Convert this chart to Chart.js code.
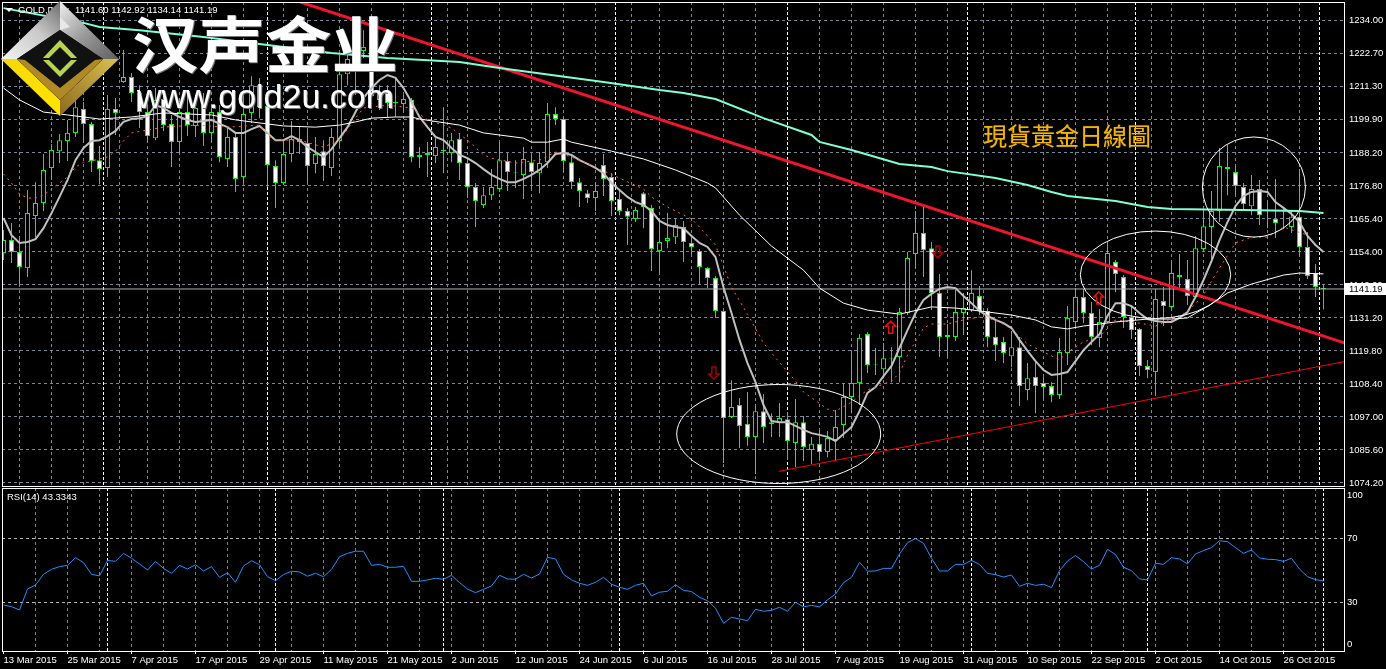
<!DOCTYPE html>
<html>
<head>
<meta charset="utf-8">
<title>GOLD Daily</title>
<script src="https://cdn.jsdelivr.net/npm/chart.js@4/dist/chart.umd.min.js"></script>
<style>
    html, body { margin: 0; padding: 0; background: #000; overflow: hidden; }
    #wrap { position: relative; width: 1386px; height: 669px; overflow: hidden; }
    canvas { position: absolute; left: 0; }
    #priceChart { top: 0; }
    #rsiChart { top: 487px; }
    .txt { position: absolute; white-space: pre; color: #fff; font-family: "Liberation Sans", sans-serif; }
    .small { font-size: 9.5px; line-height: 12px; }
    #head { left: 18px; top: 4px; }
    #headVals { left: 75px; top: 4px; }
    #rsiName { left: 7px; top: 491px; }
    #brand { left: 132px; top: 2px; font: 700 61px/80px "Noto Sans CJK SC", sans-serif; text-shadow: 1px 1px 0 #777; transform: scaleX(1.09); transform-origin: left top; }
    #site { left: 137px; top: 77px; font-size: 34px; line-height: 38px; text-shadow: 1px 1px 0 #777; }
    #title { left: 983px; top: 117px; color: #f2b705; font: 24px/36px "Noto Sans CJK TC", sans-serif; text-shadow: 0 0 1px #7a5a00; }
    #logo { position: absolute; left: 0; top: 0; }
    #mark { position: absolute; left: 5px; top: 8px; }
</style>
</head>
<body>
<div id="wrap">
    <canvas id="priceChart" width="1386" height="487"></canvas>
    <canvas id="rsiChart" width="1386" height="182"></canvas>
    <svg id="mark" width="9" height="5"><polygon points="0,0 8,0 4,4" fill="#fff"/></svg>
    <div class="txt small" id="head">GOLD,Daily</div>
    <div class="txt small" id="headVals">1141.60 1142.92 1134.14 1141.19</div>
    <div class="txt small" id="rsiName">RSI(14) 43.3343</div>
    <svg id="logo" width="120" height="118">
        <defs>
            <linearGradient id="g1" x1="0" y1="1" x2="1" y2="0"><stop offset="0" stop-color="#f4f4f4"/><stop offset="0.55" stop-color="#c9c9c9"/><stop offset="1" stop-color="#6c6c6c"/></linearGradient>
            <linearGradient id="g2" x1="0" y1="0" x2="1" y2="1"><stop offset="0" stop-color="#f0f0f0"/><stop offset="0.5" stop-color="#9a9a9a"/><stop offset="1" stop-color="#5e5e5e"/></linearGradient>
            <linearGradient id="g3" x1="0" y1="0" x2="1" y2="1"><stop offset="0" stop-color="#f7d80a"/><stop offset="1" stop-color="#ffe400"/></linearGradient>
            <linearGradient id="g4" x1="1" y1="0" x2="0" y2="1"><stop offset="0" stop-color="#d9c050"/><stop offset="1" stop-color="#8d6a1c"/></linearGradient>
        </defs>
        <polygon points="1,59 60,1 60,30 17,59" fill="url(#g1)"/>
        <polygon points="60,1 119,59 103,59 60,30" fill="url(#g2)"/>
        <polygon points="1,59 60,116 60,100 17,59" fill="url(#g3)"/>
        <polygon points="119,59 60,116 60,100 103,59" fill="url(#g4)"/>
        <polygon points="60,1 60,17 70,27 60,30" fill="#e8e8e8"/>
        <polygon points="17,59 60,30 103,59 60,100" fill="#111"/>
        <polygon points="25,60 60,88 95,60 103,59 60,100 17,59" fill="#b08a24"/>
        <polygon points="60,40 42,59 60,77 78,59" fill="#b9d252"/>
        <polygon points="60,47 48,59 60,71 72,59" fill="#111"/>
        <rect x="42" y="58" width="36" height="2" fill="#111"/>
    </svg>
    <div class="txt" id="brand">汉声金业</div>
    <div class="txt" id="site">www.gold2u.com</div>
    <div class="txt" id="title">現貨黃金日線圖</div>
</div>
<script>
// candles, one value per day, oldest first
const opens = [1153.6,1158.1,1154.0,1148.4,1166.4,1170.9,1183.0,1188.8,1192.3,1195.1,1203.4,1198.2,1185.7,1183.0,1203.4,1212.7,1214.4,1208.9,1202.3,1193.3,1206.8,1198.2,1192.0,1202.3,1197.5,1204.4,1195.1,1202.3,1186.1,1193.7,1179.9,1202.0,1204.0,1204.4,1183.7,1177.8,1187.8,1193.0,1191.6,1184.4,1188.8,1183.0,1192.3,1215.4,1220.3,1223.4,1220.3,1206.5,1208.9,1205.8,1205.1,1206.5,1187.5,1187.5,1187.1,1188.8,1188.2,1193.0,1184.7,1176.4,1170.2,1173.6,1175.7,1185.4,1181.4,1180.6,1185.0,1181.2,1185.0,1201.6,1199.9,1185.0,1178.1,1174.3,1172.6,1184.0,1179.9,1172.3,1168.1,1165.4,1174.3,1169.2,1154.3,1157.8,1159.1,1162.6,1157.1,1154.3,1148.4,1145.0,1133.6,1097.0,1101.1,1094.6,1090.1,1099.0,1094.5,1094.9,1096.2,1088.0,1095.2,1085.6,1087.7,1084.9,1089.0,1094.2,1103.9,1108.7,1125.6,1115.1,1113.5,1117.2,1117.7,1132.9,1153.3,1160.5,1155.3,1139.8,1125.3,1124.6,1132.9,1133.9,1138.8,1133.6,1124.6,1122.9,1118.0,1121.1,1106.3,1110.8,1108.7,1107.7,1104.6,1119.1,1129.8,1138.4,1132.9,1124.3,1129.8,1150.5,1145.3,1131.5,1127.4,1114.6,1112.5,1137.0,1135.0,1146.0,1144.6,1138.4,1155.0,1162.6,1168.1,1183.3,1181.6,1176.4,1169.8,1175.7,1168.6,1165.4,1162.7,1162.6,1166.1,1155.7,1146.7,1141.60];
const highs = [1161.6,1164.0,1159.5,1175.4,1178.1,1187.8,1191.3,1194.7,1199.6,1219.2,1205.8,1198.9,1190.6,1208.2,1207.2,1223.7,1215.8,1211.6,1204.7,1210.6,1209.9,1201.3,1207.2,1208.9,1208.2,1208.9,1204.7,1204.7,1197.1,1195.4,1208.9,1214.7,1214.1,1208.2,1185.7,1192.0,1199.2,1197.5,1196.1,1193.7,1192.6,1196.8,1222.0,1223.0,1223.7,1230.6,1223.7,1211.6,1211.6,1214.4,1208.2,1207.2,1190.2,1192.0,1193.3,1204.0,1195.1,1195.1,1186.4,1177.8,1176.4,1182.6,1192.0,1188.2,1185.7,1190.2,1187.5,1188.5,1205.4,1204.0,1200.6,1187.5,1179.5,1175.4,1178.1,1187.8,1181.2,1175.4,1169.2,1169.5,1174.7,1170.2,1164.3,1167.4,1165.7,1164.7,1158.8,1155.0,1148.8,1145.7,1133.9,1109.7,1103.5,1105.6,1101.5,1104.9,1098.3,1101.8,1098.7,1103.2,1097.3,1090.1,1092.5,1092.1,1099.4,1108.7,1119.1,1125.6,1126.3,1120.8,1122.5,1121.1,1134.6,1154.0,1168.1,1169.5,1157.4,1146.4,1129.1,1140.8,1139.8,1147.7,1142.2,1134.6,1130.5,1124.6,1126.7,1124.6,1115.6,1116.0,1110.8,1109.0,1124.3,1135.3,1141.5,1141.2,1136.7,1134.3,1156.4,1151.2,1146.0,1135.0,1127.7,1116.7,1141.2,1141.9,1150.8,1153.3,1151.2,1159.5,1168.8,1175.0,1189.9,1190.9,1184.0,1177.8,1180.6,1178.8,1171.6,1179.2,1169.5,1168.5,1182.6,1160.9,1149.8,1142.92];
const lows = [1151.2,1150.2,1142.5,1145.3,1159.1,1168.1,1178.8,1184.7,1185.4,1193.7,1192.0,1181.6,1177.4,1179.9,1194.4,1212.3,1205.8,1196.8,1192.0,1192.6,1195.8,1183.3,1188.2,1194.0,1193.7,1190.6,1192.0,1185.0,1183.3,1174.7,1177.8,1198.5,1200.2,1176.4,1169.2,1177.1,1185.0,1187.8,1178.1,1181.2,1178.5,1180.2,1190.2,1211.6,1208.2,1221.0,1204.7,1203.0,1200.6,1200.6,1202.3,1185.0,1183.0,1179.9,1184.7,1181.2,1185.0,1178.8,1172.6,1162.6,1169.2,1171.9,1174.7,1175.0,1176.1,1172.3,1175.7,1174.3,1183.0,1197.8,1181.6,1175.7,1169.5,1170.9,1168.1,1173.3,1166.4,1166.7,1156.4,1164.3,1162.2,1147.4,1146.7,1155.3,1156.7,1150.5,1152.2,1142.6,1141.5,1131.2,1081.1,1096.6,1086.3,1087.0,1077.3,1088.0,1090.1,1090.1,1082.1,1079.7,1081.8,1080.7,1082.5,1083.1,1082.1,1089.7,1098.3,1101.1,1112.2,1111.5,1110.4,1109.0,1109.0,1132.2,1148.4,1145.3,1133.9,1117.7,1117.7,1123.2,1125.3,1133.2,1132.2,1121.1,1116.3,1115.6,1114.2,1100.8,1102.8,1098.3,1103.2,1102.1,1103.2,1114.9,1127.4,1129.4,1121.8,1121.1,1129.4,1140.1,1127.7,1123.9,1111.1,1110.4,1104.2,1128.4,1134.6,1140.8,1135.7,1138.1,1154.3,1150.5,1164.3,1173.6,1173.6,1168.5,1166.7,1163.3,1162.2,1158.8,1161.9,1160.5,1152.2,1144.6,1138.4,1134.14];
const closes = [1158.1,1154.0,1148.8,1167.4,1170.9,1182.3,1189.2,1192.6,1195.1,1204.0,1198.2,1185.4,1182.6,1203.4,1202.0,1214.4,1208.9,1202.3,1194.0,1206.5,1197.8,1192.0,1202.3,1197.8,1203.7,1195.1,1202.3,1186.8,1193.7,1179.2,1201.6,1211.6,1211.6,1184.0,1177.8,1187.8,1193.0,1192.0,1183.7,1187.8,1183.7,1193.7,1215.4,1220.6,1216.8,1224.8,1207.8,1209.2,1205.4,1205.4,1206.8,1186.8,1186.8,1188.2,1190.2,1189.2,1192.6,1184.7,1176.4,1171.6,1173.6,1176.4,1185.7,1181.6,1181.2,1186.1,1181.6,1184.7,1201.6,1199.9,1185.4,1178.1,1175.0,1172.6,1175.0,1179.2,1171.6,1168.1,1166.1,1168.5,1169.5,1155.0,1157.4,1158.8,1163.3,1157.4,1155.7,1148.8,1145.0,1133.6,1096.6,1100.4,1093.9,1090.1,1099.0,1093.5,1095.2,1096.6,1088.7,1095.2,1086.6,1087.7,1084.9,1089.7,1093.5,1103.9,1108.7,1124.3,1114.9,1114.9,1117.3,1117.4,1133.2,1151.9,1160.5,1154.6,1139.8,1124.6,1124.6,1133.2,1134.6,1139.8,1133.6,1124.6,1121.8,1119.1,1121.1,1107.7,1110.4,1107.7,1107.3,1104.6,1119.4,1131.2,1138.4,1132.9,1124.6,1129.8,1153.6,1146.4,1131.5,1127.0,1114.6,1113.2,1137.7,1135.3,1146.7,1145.3,1138.8,1155.3,1162.9,1168.1,1183.7,1182.6,1176.8,1170.5,1175.7,1166.7,1168.4,1164.0,1162.5,1166.1,1155.7,1145.7,1141.9,1141.19];

// silver moving average
const fastMa = [1165.7,1159.8,1157.1,1157.4,1158.4,1162.2,1167.4,1173.0,1178.8,1185.7,1189.9,1192.3,1192.6,1194.0,1195.8,1198.9,1199.9,1200.2,1200.9,1204.7,1203.7,1202.0,1200.6,1199.6,1198.9,1199.2,1199.6,1198.2,1197.1,1195.1,1195.1,1196.4,1197.5,1195.1,1192.6,1192.6,1194.0,1192.6,1190.2,1188.5,1186.8,1189.5,1193.3,1197.1,1202.3,1207.2,1210.6,1213.4,1215.1,1214.1,1210.6,1205.8,1200.6,1197.1,1193.7,1192.6,1189.9,1187.5,1186.4,1184.7,1182.6,1180.6,1179.2,1178.1,1178.1,1179.2,1180.6,1182.3,1184.7,1187.8,1188.2,1187.5,1185.7,1184.4,1183.0,1181.2,1177.8,1175.4,1173.0,1171.2,1170.2,1168.1,1164.7,1163.3,1162.6,1162.2,1159.5,1157.1,1155.7,1152.2,1141.8,1132.9,1123.6,1115.6,1109.0,1101.1,1095.6,1095.2,1095.2,1093.9,1092.5,1091.4,1090.8,1090.1,1088.7,1091.1,1093.5,1099.0,1105.3,1107.3,1111.1,1114.6,1120.8,1127.0,1132.9,1137.4,1139.5,1141.2,1141.9,1141.5,1138.8,1136.3,1133.6,1131.9,1130.5,1129.4,1127.7,1123.6,1119.8,1116.3,1113.2,1111.5,1111.8,1112.5,1116.3,1120.1,1122.9,1125.6,1131.9,1136.3,1136.3,1135.3,1132.9,1130.8,1130.1,1129.8,1129.8,1131.2,1133.2,1138.4,1144.3,1150.8,1158.1,1164.3,1169.8,1173.3,1174.7,1175.0,1174.7,1171.2,1169.2,1167.1,1164.3,1159.5,1156.4,1154.0];

// dotted red moving average, read at these bars
const midBars = [0,1,2,3,4,5,6,7,8,9,10,11,13,14,15,16,18,20,24,28,32,33,34,37,40,42,44,45,48,51,53,56,58,60,61,64,67,69,71,74,77,80,81,83,86,87,89,91,93,95,96,99,100,103,104,106,108,111,112,113,115,116,118,120,122,124,126,128,132,133,135,137,139,142,144,146,148,150,151,152,154,156,158,160,163];
const midVals = [1180.9,1177.8,1174.0,1172.6,1172.6,1173.6,1175.7,1177.8,1179.9,1183.3,1185.0,1185.4,1186.8,1188.8,1192.3,1195.1,1196.1,1197.1,1197.8,1197.1,1197.8,1194.4,1192.6,1192.6,1190.2,1192.6,1200.2,1203.7,1204.7,1203.7,1199.6,1196.8,1192.6,1187.5,1186.4,1184.7,1185.7,1188.5,1186.8,1183.3,1179.5,1175.7,1173.0,1169.5,1165.4,1162.6,1156.4,1141.8,1132.5,1122.5,1119.1,1109.4,1105.6,1099.7,1099.0,1102.1,1106.3,1109.4,1112.2,1118.4,1127.7,1129.1,1129.1,1130.5,1131.5,1130.5,1127.4,1122.2,1116.7,1119.4,1122.9,1124.6,1130.5,1129.4,1128.4,1130.8,1133.2,1139.1,1143.9,1148.4,1157.1,1159.1,1159.1,1162.6,1159.8];

// thin white moving average
const slowBars = [0,2,5,8,12,16,20,26,29,35,39,42,44,46,49,51,52,57,60,65,66,68,70,71,76,80,84,88,89,92,96,100,102,105,108,112,116,119,122,126,129,131,133,135,139,143,146,148,151,153,156,160,162,165];
const slowVals = [1210.6,1206.5,1202.3,1201.3,1199.9,1200.6,1202.0,1201.3,1199.6,1197.5,1197.1,1197.8,1198.9,1200.2,1200.6,1200.6,1199.9,1197.8,1195.1,1193.3,1191.9,1191.9,1193.0,1191.9,1188.8,1186.1,1182.3,1177.8,1176.1,1166.7,1156.0,1147.7,1141.5,1136.3,1133.9,1132.5,1135.0,1134.6,1133.6,1132.2,1130.5,1128.1,1127.4,1128.4,1129.8,1130.8,1130.8,1131.2,1136.0,1139.8,1142.9,1146.0,1146.7,1146.4];

// aquamarine long moving average
const longBars = [0,10,12,17,25,33,41,48,57,62,75,82,85,89,95,101,102,106,112,116,118,124,128,131,133,139,143,146,155,162,165];
const longVals = [1238.2,1233.1,1231.7,1230.6,1228.2,1225.5,1222.7,1221.0,1219.6,1217.5,1212.7,1209.9,1208.9,1206.8,1200.2,1194.4,1192.0,1189.2,1184.4,1183.3,1181.9,1179.5,1177.1,1174.7,1173.3,1171.6,1169.5,1168.8,1168.5,1168.1,1167.4];

// trend lines drawn by hand on the chart
const downTrendBars = [37.1, 167.6];
const downTrendVals = [1240.3, 1122.6];
const upTrendBars = [96.9, 167.6];
const upTrendVals = [1078.2, 1116.1];

// circles and arrows drawn by hand on the chart
const ringBars = [96.9, 144, 156.3];
const ringVals = [1091.1, 1146.1, 1176.4];
const ringBarRadius = [12.75, 9.4, 6.44];
const ringValRadius = [17.1, 15.1, 17.3];
const arrowBars = [88.8, 110.9, 116.8, 136.9];
const arrowVals = [1112.2, 1128.0, 1154.0, 1138.1];
const arrowDirs = ['down', 'up', 'down', 'up'];

const rsiVals = [28.3,27.3,25.2,38.3,40.8,47.5,50.6,52.3,53.1,57.9,54.8,47.5,46.5,56.2,55.6,60.6,57.5,54.0,50.2,55.6,51.2,48.1,53.1,50.8,53.5,49.6,52.3,45.6,48.5,42.5,52.7,56.0,53.5,46.0,43.5,47.3,49.4,49.0,46.3,48.1,46.0,50.6,58.5,60.6,61.9,61.9,53.1,53.7,51.9,51.9,52.5,43.1,43.1,44.0,45.0,44.4,46.9,42.3,38.3,36.0,38.1,40.2,46.9,44.6,44.4,47.5,45.2,47.7,58.1,57.1,47.5,44.0,41.9,40.6,42.5,45.6,41.3,39.4,38.1,40.6,41.9,34.0,36.3,36.9,41.0,37.5,36.7,33.1,31.0,26.3,16.9,20.6,19.6,18.5,25.6,24.4,25.0,26.9,24.4,30.0,27.1,28.1,27.1,31.5,35.2,42.3,45.6,55.0,49.4,49.6,51.2,51.2,60.2,67.3,69.8,66.9,57.5,49.6,49.6,53.7,53.7,56.2,53.7,48.1,47.3,45.8,47.1,40.0,41.9,40.6,41.3,39.2,49.8,55.8,59.2,55.4,50.8,53.1,63.1,59.8,51.9,49.8,44.6,44.0,54.4,53.7,57.9,57.1,54.0,60.2,62.3,64.2,68.5,67.9,64.2,60.6,62.7,57.7,56.9,56.7,55.6,57.5,50.8,46.0,44.2,43.3343];

// axis labels
const priceTicks = [1234.00,1222.70,1211.30,1199.90,1188.20,1176.80,1165.40,1154.00,1142.60,1131.20,1119.80,1108.40,1097.00,1085.60,1074.20];
const rsiTicks = [100, 70, 30, 0];
const rsiGrid = [70, 30];
const dateLabels = ['13 Mar 2015','25 Mar 2015','7 Apr 2015','17 Apr 2015','29 Apr 2015','11 May 2015','21 May 2015','2 Jun 2015','12 Jun 2015','24 Jun 2015','6 Jul 2015','16 Jul 2015','28 Jul 2015','7 Aug 2015','19 Aug 2015','31 Aug 2015','10 Sep 2015','22 Sep 2015','2 Oct 2015','14 Oct 2015','26 Oct 2015'];
const monthBars = [13, 34, 55, 77, 100, 121, 143, 165];

const GREEN = '#00ff00';
const FONT_FAMILY = '"Liberation Sans", sans-serif';
const AXIS_FONT = { family: FONT_FAMILY, size: 9.5 };
const lastClose = closes[closes.length - 1];
const barAxisMin = -0.1875;
const barAxisMax = 167.5625;

// grid every 4 bars plus the white month separators
const gridBars = [];
for (let i = 0; i <= 164; i += 4) gridBars.push(i);
monthBars.forEach(b => { if (!gridBars.includes(b)) gridBars.push(b); });
gridBars.sort((a, b) => a - b);

function toPoints(bars, vals) {
    return bars.map((b, i) => ({ x: b, y: vals[i] }));
}

function lineSet(bars, vals, color, width, dash) {
    return {
        type: 'line',
        data: toPoints(bars, vals),
        borderColor: color,
        borderWidth: width,
        borderDash: dash || [],
        pointRadius: 0,
        tension: 0,
        order: 1,
    };
}

const barIndex = closes.map((_, i) => i);

// no label padding: the panels keep the plot area the reference has
function noPadding(s) {
    s.paddingLeft = 0;
    s.paddingRight = 0;
    s.paddingTop = 0;
    s.paddingBottom = 0;
}

function barAxis(extra) {
    return Object.assign({
        type: 'linear',
        offset: false,
        min: barAxisMin,
        max: barAxisMax,
        afterBuildTicks: s => { s.ticks = gridBars.map(v => ({ value: v })); },
        border: {
            display: false,
            dash: ctx => monthBars.includes(ctx.tick && ctx.tick.value) ? [3, 2] : [3, 3],
        },
    }, extra);
}

function gridColor(normal) {
    return ctx => {
        const v = ctx.tick ? ctx.tick.value : 0;
        if (v === 0) return 'transparent';
        return monthBars.includes(v) ? '#ffffff' : normal;
    };
}

// white frame round a panel
const framePlugin = {
    id: 'frame',
    afterDraw(chart) {
        const a = chart.chartArea, c = chart.ctx;
        c.save();
        c.strokeStyle = '#ffffff';
        c.lineWidth = 1;
        c.strokeRect(a.left + 0.5, a.top + 0.5, a.right - a.left, a.bottom - a.top);
        c.restore();
    },
};

// rings, arrows and the last price tag, placed through the chart's scales
const markupPlugin = {
    id: 'markup',
    afterDatasetsDraw(chart) {
        const c = chart.ctx, x = chart.scales.x, y = chart.scales.y;
        c.save();
        c.strokeStyle = '#ffffff';
        c.lineWidth = 1;
        ringBars.forEach((b, i) => {
            const cx = x.getPixelForValue(b), cy = y.getPixelForValue(ringVals[i]);
            const rx = x.getPixelForValue(b + ringBarRadius[i]) - cx;
            const ry = cy - y.getPixelForValue(ringVals[i] + ringValRadius[i]);
            c.beginPath();
            c.ellipse(cx, cy, rx, ry, 0, 0, Math.PI * 2);
            c.stroke();
        });
        arrowBars.forEach((b, i) => {
            const px = x.getPixelForValue(b), py = y.getPixelForValue(arrowVals[i]);
            const s = arrowDirs[i] === 'up' ? 1 : -1;
            c.beginPath();
            c.moveTo(px, py - 6 * s);
            c.lineTo(px + 5, py - 1 * s);
            c.lineTo(px + 2, py - 1 * s);
            c.lineTo(px + 2, py + 6 * s);
            c.lineTo(px - 2, py + 6 * s);
            c.lineTo(px - 2, py - 1 * s);
            c.lineTo(px - 5, py - 1 * s);
            c.closePath();
            c.strokeStyle = arrowDirs[i] === 'up' ? '#e01010' : '#a80000';
            c.lineWidth = 1.5;
            c.stroke();
        });
        c.restore();
    },
    afterDraw(chart) {
        const c = chart.ctx, a = chart.chartArea, py = chart.scales.y.getPixelForValue(lastClose);
        c.save();
        c.fillStyle = '#ffffff';
        c.fillRect(a.right + 1, py - 6, 41, 12);
        c.fillStyle = '#000000';
        c.font = '9.5px ' + FONT_FAMILY;
        c.textBaseline = 'middle';
        c.fillText(lastClose.toFixed(2), a.right + 5, py);
        c.restore();
    },
};

// MT4 nudges the 100 and 0 labels into the panel
const rsiLabelPlugin = {
    id: 'rsiLabels',
    afterDraw(chart) {
        const c = chart.ctx, y = chart.scales.y, a = chart.chartArea;
        c.save();
        c.fillStyle = '#ffffff';
        c.font = '9.5px ' + FONT_FAMILY;
        c.textBaseline = 'middle';
        rsiTicks.forEach(v => {
            const nudge = v === 100 ? 5 : v === 0 ? -6 : 0;
            c.fillText(String(v), a.right + 3, y.getPixelForValue(v) + nudge);
        });
        c.restore();
    },
};

new Chart(document.getElementById('priceChart'), {
    type: 'bar',
    data: {
        datasets: [
            lineSet(longBars, longVals, '#7fffd4', 2),
            lineSet(slowBars, slowVals, '#ffffff', 1),
            lineSet(midBars, midVals, '#ff6347', 1, [2, 4]),
            lineSet(barIndex, fastMa, '#c0c0c0', 2),
            lineSet(downTrendBars, downTrendVals, '#f0142d', 3),
            lineSet(upTrendBars, upTrendVals, '#ff0000', 1),
            lineSet([barAxisMin, barAxisMax], [lastClose, lastClose], '#b0b0b0', 1),
            {
                data: barIndex.map(i => ({ x: i, y: [lows[i], highs[i]] })),
                backgroundColor: GREEN,
                borderWidth: 0,
                barThickness: 1,
                grouped: false,
                inflateAmount: 0,
                order: 3,
            },
            {
                data: barIndex.map(i => ({ x: i, y: [opens[i], closes[i]] })),
                backgroundColor: barIndex.map(i => closes[i] >= opens[i] ? '#000000' : '#ffffff'),
                borderColor: GREEN,
                borderWidth: 1,
                borderSkipped: false,
                barThickness: 5,
                grouped: false,
                inflateAmount: 0,
                order: 2,
            },
        ],
    },
    options: {
        responsive: false,
        animation: false,
        devicePixelRatio: 1,
        layout: { padding: { left: 2, right: 0, top: 2, bottom: 1 } },
        plugins: { legend: { display: false }, tooltip: { enabled: false } },
        events: [],
        scales: {
            x: barAxis({
                ticks: { display: false },
                grid: { color: gridColor('#778899'), drawTicks: false },
                afterFit: s => { s.height = 0; noPadding(s); },
            }),
            y: {
                position: 'right',
                min: 1073.14,
                max: 1240.32,
                afterBuildTicks: s => { s.ticks = priceTicks.map(v => ({ value: v })); },
                afterFit: s => { s.width = 42; noPadding(s); },
                border: { display: false, dash: [3, 3] },
                grid: { color: '#778899', drawTicks: false },
                ticks: {
                    color: '#ffffff',
                    font: AXIS_FONT,
                    padding: 5,
                    autoSkip: false,
                    callback: v => v.toFixed(2),
                },
            },
        },
    },
    plugins: [framePlugin, markupPlugin],
});

new Chart(document.getElementById('rsiChart'), {
    type: 'line',
    data: {
        datasets: [lineSet(barIndex, rsiVals, '#1e90ff', 1)],
    },
    options: {
        responsive: false,
        animation: false,
        devicePixelRatio: 1,
        layout: { padding: { left: 2, right: 0, top: 1, bottom: 0 } },
        plugins: { legend: { display: false }, tooltip: { enabled: false } },
        events: [],
        scales: {
            x: barAxis({
                afterFit: s => { s.height = 18; noPadding(s); },
                grid: {
                    color: gridColor('#808080'),
                    tickLength: 3,
                    tickColor: ctx => ctx.tick && ctx.tick.value % 8 === 0 ? '#ffffff' : 'transparent',
                    tickBorderDash: [],
                },
                ticks: {
                    color: '#ffffff',
                    font: AXIS_FONT,
                    align: 'start',
                    autoSkip: false,
                    maxRotation: 0,
                    padding: 1,
                    callback: v => v % 8 === 0 ? dateLabels[v / 8] : '',
                },
            }),
            y: {
                position: 'right',
                min: -0.44,
                max: 101.44,
                afterBuildTicks: s => { s.ticks = rsiGrid.map(v => ({ value: v })); },
                afterFit: s => { s.width = 42; noPadding(s); },
                border: { display: false, dash: [3, 3] },
                grid: { color: '#b8b8b8', drawTicks: false },
                ticks: { display: false },
            },
        },
    },
    plugins: [framePlugin, rsiLabelPlugin],
});
</script>
</body>
</html>
